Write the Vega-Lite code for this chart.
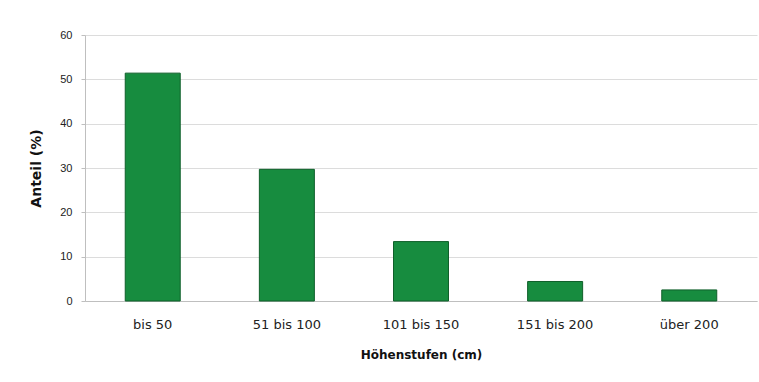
{
  "$schema": "https://vega.github.io/schema/vega-lite/v6.json",
  "width": 672,
  "height": 266,
  "autosize": {"type": "none"},
  "padding": {"left": 85, "top": 35, "right": 2, "bottom": 81},
  "background": "white",
  "data": {
    "values": [
      {"stufe": "bis 50", "anteil": 51.4},
      {"stufe": "51 bis 100", "anteil": 29.7},
      {"stufe": "101 bis 150", "anteil": 13.4},
      {"stufe": "151 bis 200", "anteil": 4.4},
      {"stufe": "über 200", "anteil": 2.5}
    ]
  },
  "config": {
    "view": {"stroke": null},
    "font": "DejaVu Sans",
    "axis": {
      "labelColor": "#222222",
      "titleColor": "#111111",
      "titleFont": "DejaVu Sans",
      "titleFontWeight": "bold"
    }
  },
  "mark": {"type": "bar", "color": "#178c3f", "stroke": "#0f5f2a", "strokeWidth": 1},
  "encoding": {
    "x": {
      "field": "stufe",
      "type": "nominal",
      "sort": null,
      "title": "Höhenstufen (cm)",
      "scale": {"paddingInner": 0.59, "paddingOuter": 0.3},
      "axis": {
        "labelAngle": 0,
        "labelFont": "DejaVu Sans",
        "labelFontSize": 13,
        "titleFontSize": 12,
        "ticks": false,
        "domain": true,
        "domainColor": "#bfbfbf",
        "labelPadding": 17,
        "titlePadding": 18
      }
    },
    "y": {
      "field": "anteil",
      "type": "quantitative",
      "title": "Anteil (%)",
      "scale": {"domain": [0, 60]},
      "axis": {
        "values": [0, 10, 20, 30, 40, 50, 60],
        "labelFont": "Liberation Sans",
        "labelFontSize": 11,
        "titleFontSize": 14,
        "tickSize": 4,
        "tickColor": "#bfbfbf",
        "domainColor": "#bfbfbf",
        "gridColor": "#dcdcdc",
        "labelPadding": 9,
        "titlePadding": 16
      }
    }
  }
}
